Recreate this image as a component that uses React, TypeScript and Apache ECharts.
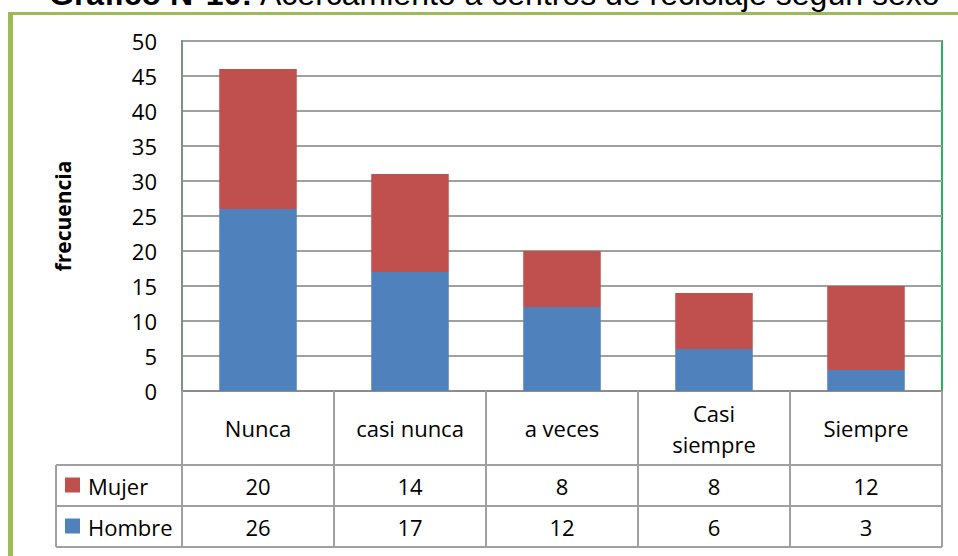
import React, { useEffect, useRef } from 'react';
import * as echarts from 'echarts';

const categories = ['Nunca', 'casi nunca', 'a veces', 'Casi\nsiempre', 'Siempre'];
const seriesNames = ['Mujer', 'Hombre'];
const mujer = [20, 14, 8, 8, 12];
const hombre = [26, 17, 12, 6, 3];
const yMin = 0;
const yMax = 50;
const yInterval = 5;
const titleBold = 'Gráfico N°10:';
const titleRest = 'Acercamiento a centros de reciclaje según sexo';
const yAxisTitle = 'frecuencia';

const RED = '#C0504D';
const BLUE = '#4F81BD';
const GRID_GRAY = '#A0A0A0';
const FONT = '"Open Sans", "Noto Sans", sans-serif';

export default function App() {
  const ref = useRef<HTMLDivElement>(null);
  useEffect(() => {
    if (!ref.current) return;
    const chart = echarts.init(ref.current, null, { renderer: 'svg' });
    const option: any = {
      animation: false,
      backgroundColor: '#ffffff',
      textStyle: { fontFamily: FONT },
      grid: {
        left: 182,
        right: 16,
        top: 41,
        bottom: 165,
        show: true,
        borderColor: '#22B55A',
        borderWidth: 2,
        backgroundColor: 'transparent',
      },
      xAxis: {
        type: 'category',
        data: categories,
        axisLine: { show: true, lineStyle: { color: '#8C8C8C', width: 2 } },
        axisTick: {
          show: true,
          interval: 0,
          alignWithLabel: false,
          length: 156,
          lineStyle: { color: GRID_GRAY, width: 2 },
        },
        axisLabel: {
          interval: 0,
          fontSize: 22,
          fontFamily: FONT,
          color: '#000',
          verticalAlign: 'middle',
          margin: 37,
          lineHeight: 31,
        },
      },
      yAxis: {
        type: 'value',
        min: yMin,
        max: yMax,
        interval: yInterval,
        name: yAxisTitle,
        nameLocation: 'middle',
        nameRotate: 90,
        nameGap: 109,
        nameTextStyle: { fontSize: 21, fontWeight: 'bold', color: '#000', fontFamily: FONT },
        axisLine: { show: true, lineStyle: { color: '#7A9486', width: 2 } },
        axisTick: { show: false },
        splitLine: { show: true, lineStyle: { color: GRID_GRAY, width: 2 } },
        axisLabel: { fontSize: 22, color: '#000', margin: 25, fontFamily: FONT },
      },
      series: [
        {
          name: seriesNames[1],
          type: 'bar',
          stack: 'total',
          data: hombre,
          barWidth: '51%',
          itemStyle: { color: BLUE },
        },
        {
          name: seriesNames[0],
          type: 'bar',
          stack: 'total',
          data: mujer,
          barWidth: '51%',
          itemStyle: { color: RED },
        },
      ],
    };
    chart.setOption(option);

    const xs = categories.map((_, i) => chart.convertToPixel({ xAxisIndex: 0 }, i) as number);
    const tableLeft = 56;
    const tableRight = 942;
    const rowLines = [465, 506, 547];
    const rowCenters = [486, 527];
    const rows = [mujer, hombre];
    const rowColors = [RED, BLUE];

    const graphic: any[] = [
      // outer green frame
      { type: 'line', shape: { x1: 8, y1: 13.5, x2: 958, y2: 13.5 }, style: { stroke: '#9BBB59', lineWidth: 3 }, z: 10 },
      { type: 'line', shape: { x1: 10.5, y1: 12, x2: 10.5, y2: 556 }, style: { stroke: '#9BBB59', lineWidth: 5 }, z: 10 },
      // title (cut off at top, as in the reference)
      {
        type: 'text',
        x: 49,
        y: -6,
        style: { text: titleBold, fontFamily: '"Liberation Sans", Arial, sans-serif', fontSize: 32, fontWeight: 'bold', fill: '#000', textAlign: 'left', textVerticalAlign: 'middle' },
        z: 10,
      },
      {
        type: 'text',
        x: 260,
        y: -6,
        style: { text: titleRest, fontFamily: '"Liberation Sans", Arial, sans-serif', fontSize: 32, fill: '#000', textAlign: 'left', textVerticalAlign: 'middle' },
        z: 10,
      },
      // table lines
      ...rowLines.map((y) => ({
        type: 'line',
        shape: { x1: tableLeft, y1: y, x2: tableRight, y2: y },
        style: { stroke: GRID_GRAY, lineWidth: 2 },
      })),
      {
        type: 'line',
        shape: { x1: tableLeft, y1: rowLines[0], x2: tableLeft, y2: rowLines[2] },
        style: { stroke: GRID_GRAY, lineWidth: 2 },
      },
    ];

    rows.forEach((vals, r) => {
      graphic.push({
        type: 'rect',
        shape: { x: 65, y: rowCenters[r] - 8.5, width: 15, height: 15 },
        style: { fill: rowColors[r] },
      });
      graphic.push({
        type: 'text',
        x: 88,
        y: rowCenters[r],
        style: { text: seriesNames[r], fontFamily: FONT, fontSize: 22, fill: '#000', textAlign: 'left', textVerticalAlign: 'middle' },
      });
      vals.forEach((v, i) => {
        graphic.push({
          type: 'text',
          x: xs[i],
          y: rowCenters[r],
          style: { text: String(v), fontFamily: FONT, fontSize: 22, fill: '#000', textAlign: 'center', textVerticalAlign: 'middle' },
        });
      });
    });

    chart.setOption({ graphic });
    return () => chart.dispose();
  }, []);

  return (
    <div
      ref={ref}
      style={{ position: 'fixed', left: 0, top: 0, width: 958, height: 556, background: '#fff' }}
    />
  );
}
